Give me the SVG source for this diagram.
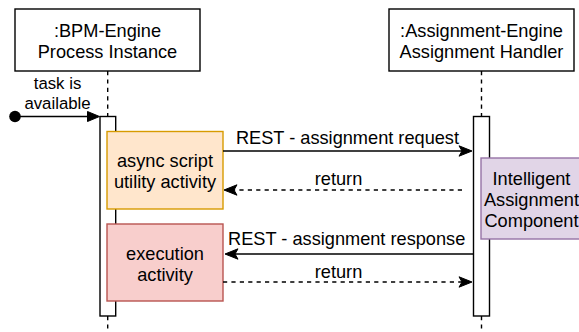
<svg xmlns="http://www.w3.org/2000/svg" width="579" height="332" viewBox="0 0 579 332">
  <style>
    text { font-family: "Liberation Sans", Arial, sans-serif; font-size: 18.2px; fill: #000; text-anchor: middle; }
    .small { font-size: 16.8px; }
    .head { fill: #fff; stroke: #000; stroke-width: 1.4; }
    .bar { fill: #fff; stroke: #000; stroke-width: 1.4; }
    .life { fill: none; stroke: #000; stroke-width: 1.4; stroke-dasharray: 4.2 4.2; }
    .msg { fill: none; stroke: #000; stroke-width: 1.4; }
    .ret { fill: none; stroke: #000; stroke-width: 1.4; stroke-dasharray: 4.2 4.2; }
    .orange { fill: #ffe6cc; stroke: #d79b00; stroke-width: 1.4; }
    .red { fill: #f8cecc; stroke: #b85450; stroke-width: 1.4; }
    .purple { fill: #e1d5e7; stroke: #9673a6; stroke-width: 1.4; }
  </style>
  <defs>
    <!-- notched arrowhead; reference point sits at the notch -->
    <marker id="classic" markerUnits="userSpaceOnUse" markerWidth="16" markerHeight="12" refX="4" refY="6" orient="auto" overflow="visible">
      <path d="M14,6 L1,0.8 L4,6 L1,11.2 Z" fill="#000" stroke="#000" stroke-width="1"/>
    </marker>
    <!-- solid triangle arrowhead; reference point at the base -->
    <marker id="block" markerUnits="userSpaceOnUse" markerWidth="14" markerHeight="12" refX="0" refY="6" orient="auto" overflow="visible">
      <path d="M0,1 L12,6 L0,11 Z" fill="#000" stroke="#000" stroke-width="1"/>
    </marker>
  </defs>

  <!-- BPM engine lifeline -->
  <g id="bpm-engine">
    <rect class="head" x="15" y="9" width="185" height="62"/>
    <text x="107.5" y="36.5">:BPM-Engine</text>
    <text x="107.5" y="57.5">Process Instance</text>
    <line class="life" x1="107.7" y1="71" x2="107.7" y2="116.5"/>
    <line class="life" x1="107.7" y1="316" x2="107.7" y2="332"/>
    <rect class="bar" x="100" y="116.5" width="15.7" height="199.5"/>
  </g>

  <!-- Assignment engine lifeline -->
  <g id="assignment-engine">
    <rect class="head" x="389" y="9" width="185" height="62"/>
    <text x="481.5" y="36.5">:Assignment-Engine</text>
    <text x="481.5" y="57.5">Assignment Handler</text>
    <line class="life" x1="481.5" y1="71" x2="481.5" y2="116.5"/>
    <line class="life" x1="481.5" y1="316" x2="481.5" y2="332"/>
    <rect class="bar" x="473.5" y="116.5" width="16" height="199.5"/>
  </g>

  <!-- activities -->
  <g id="async-script-activity">
    <rect class="orange" x="107" y="131.5" width="116" height="77.5"/>
    <text x="165" y="167">async script</text>
    <text x="165" y="188">utility activity</text>
  </g>

  <g id="execution-activity">
    <rect class="red" x="107" y="224" width="116" height="77"/>
    <text x="165" y="259.5">execution</text>
    <text x="165" y="280.5">activity</text>
  </g>

  <g id="intelligent-assignment-component">
    <rect class="purple" x="481" y="158" width="102" height="81"/>
    <text x="531.5" y="184.5">Intelligent</text>
    <text x="531.5" y="205.5">Assignment</text>
    <text x="531.5" y="226.5">Component</text>
  </g>

  <!-- messages -->
  <g id="connectors">
    <circle cx="15" cy="116.5" r="5.8" fill="#000"/>
    <line class="msg" x1="15" y1="116.5" x2="87.5" y2="116.5" marker-end="url(#block)"/>
    <text class="small" x="57.5" y="88.5">task is</text>
    <text class="small" x="57.5" y="108.5">available</text>

    <line class="msg" x1="223" y1="151" x2="462" y2="151" marker-end="url(#classic)"/>
    <text x="347.5" y="144">REST - assignment request</text>

    <line class="ret" x1="462" y1="190" x2="234" y2="190" marker-end="url(#classic)"/>
    <text x="338.5" y="185">return</text>

    <line class="msg" x1="473.5" y1="254" x2="235" y2="254" marker-end="url(#classic)"/>
    <text x="346.7" y="245">REST - assignment response</text>

    <line class="ret" x1="223" y1="282" x2="462" y2="282" marker-end="url(#classic)"/>
    <text x="338.5" y="277.5">return</text>
  </g>
</svg>
